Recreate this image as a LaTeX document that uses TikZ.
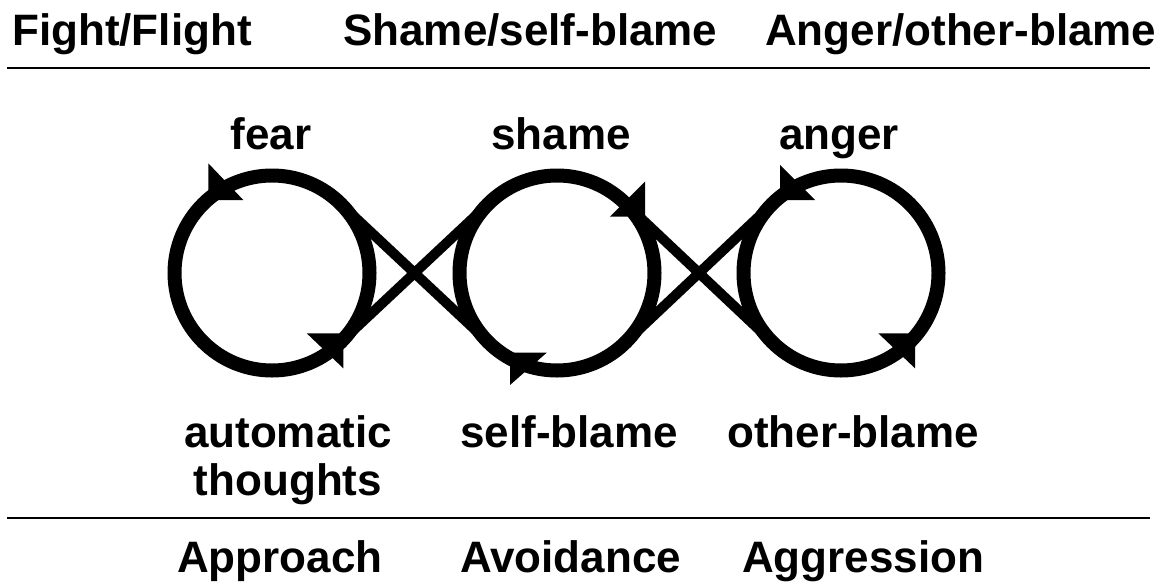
\documentclass[tikz,border=0pt]{standalone}
\usepackage{fontspec}
\setmainfont{Liberation Sans}
\begin{document}
\begin{tikzpicture}[x=1pt,y=-1pt,
  lbl/.style={font=\fontsize{44}{49}\selectfont\bfseries, inner sep=0pt},
  loop/.style={circle, draw, line width=14pt, minimum size=195pt, inner sep=0pt, outer sep=0pt},
  cross/.style={line width=10pt},
  rule/.style={line width=2.5pt},
  head/.style={fill=black}]
\useasboundingbox (0,0) rectangle (1167,584);
% headings
\node[lbl, anchor=base west] (h1) at (12,45) {Fight/Flight};
\node[lbl, anchor=base west] (h2) at (343,45) {Shame/self-blame};
\node[lbl, anchor=base west] (h3) at (765,45) {Anger/other-blame};
\coordinate (r1a) at (7,68); \coordinate (r1b) at (1150,68);
\draw[rule] (r1a) -- (r1b);
% top labels
\node[lbl, anchor=base] (t1) at (271,149) {fear};
\node[lbl, anchor=base] (t2) at (561,149) {shame};
\node[lbl, anchor=base] (t3) at (839,149) {anger};
% loops
\node[loop] (c1) at (272,273) {};
\node[loop] (c2) at (557,273) {};
\node[loop] (c3) at (841,273) {};
\draw[cross] (c1.45) -- (c2.225);
\draw[cross] (c1.315) -- (c2.135);
\draw[cross] (c2.45) -- (c3.225);
\draw[cross] (c2.315) -- (c3.135);
% arrowheads
\begin{scope}[shift={(c1.center)}]
  \fill[head] (-63.7,-109.7) -- (-63.7,-73) -- (-28.7,-73) -- cycle;
  \fill[head] (34.7,60.3) -- (71.3,60.3) -- (71.3,95.3) -- cycle;
\end{scope}
\begin{scope}[shift={(c2.center)}]
  \fill[head] (88,-91.3) -- (88,-56.3) -- (53,-56.3) -- cycle;
  \fill[head] (-10.3,79.7) -- (-47,79.7) -- (-47,112) -- cycle;
\end{scope}
\begin{scope}[shift={(c3.center)}]
  \fill[head] (-61,-108) -- (-61,-73) -- (-26,-73) -- cycle;
  \fill[head] (37.3,60.3) -- (74,60.3) -- (74,95.3) -- cycle;
\end{scope}
% lower labels
\node[lbl, anchor=base] (b1) at (288,447) {automatic};
\node[lbl, anchor=base] (b1b) at (288,495) {thoughts};
\node[lbl, anchor=base west] (b2) at (460,447) {self-blame};
\node[lbl, anchor=base west] (b3) at (727,447) {other-blame};
\coordinate (r2a) at (7,518); \coordinate (r2b) at (1150,518);
\draw[rule] (r2a) -- (r2b);
\node[lbl, anchor=base west] (f1) at (177,572) {Approach};
\node[lbl, anchor=base west] (f2) at (460,572) {Avoidance};
\node[lbl, anchor=base west] (f3) at (742,572) {Aggression};
\end{tikzpicture}
\end{document}
